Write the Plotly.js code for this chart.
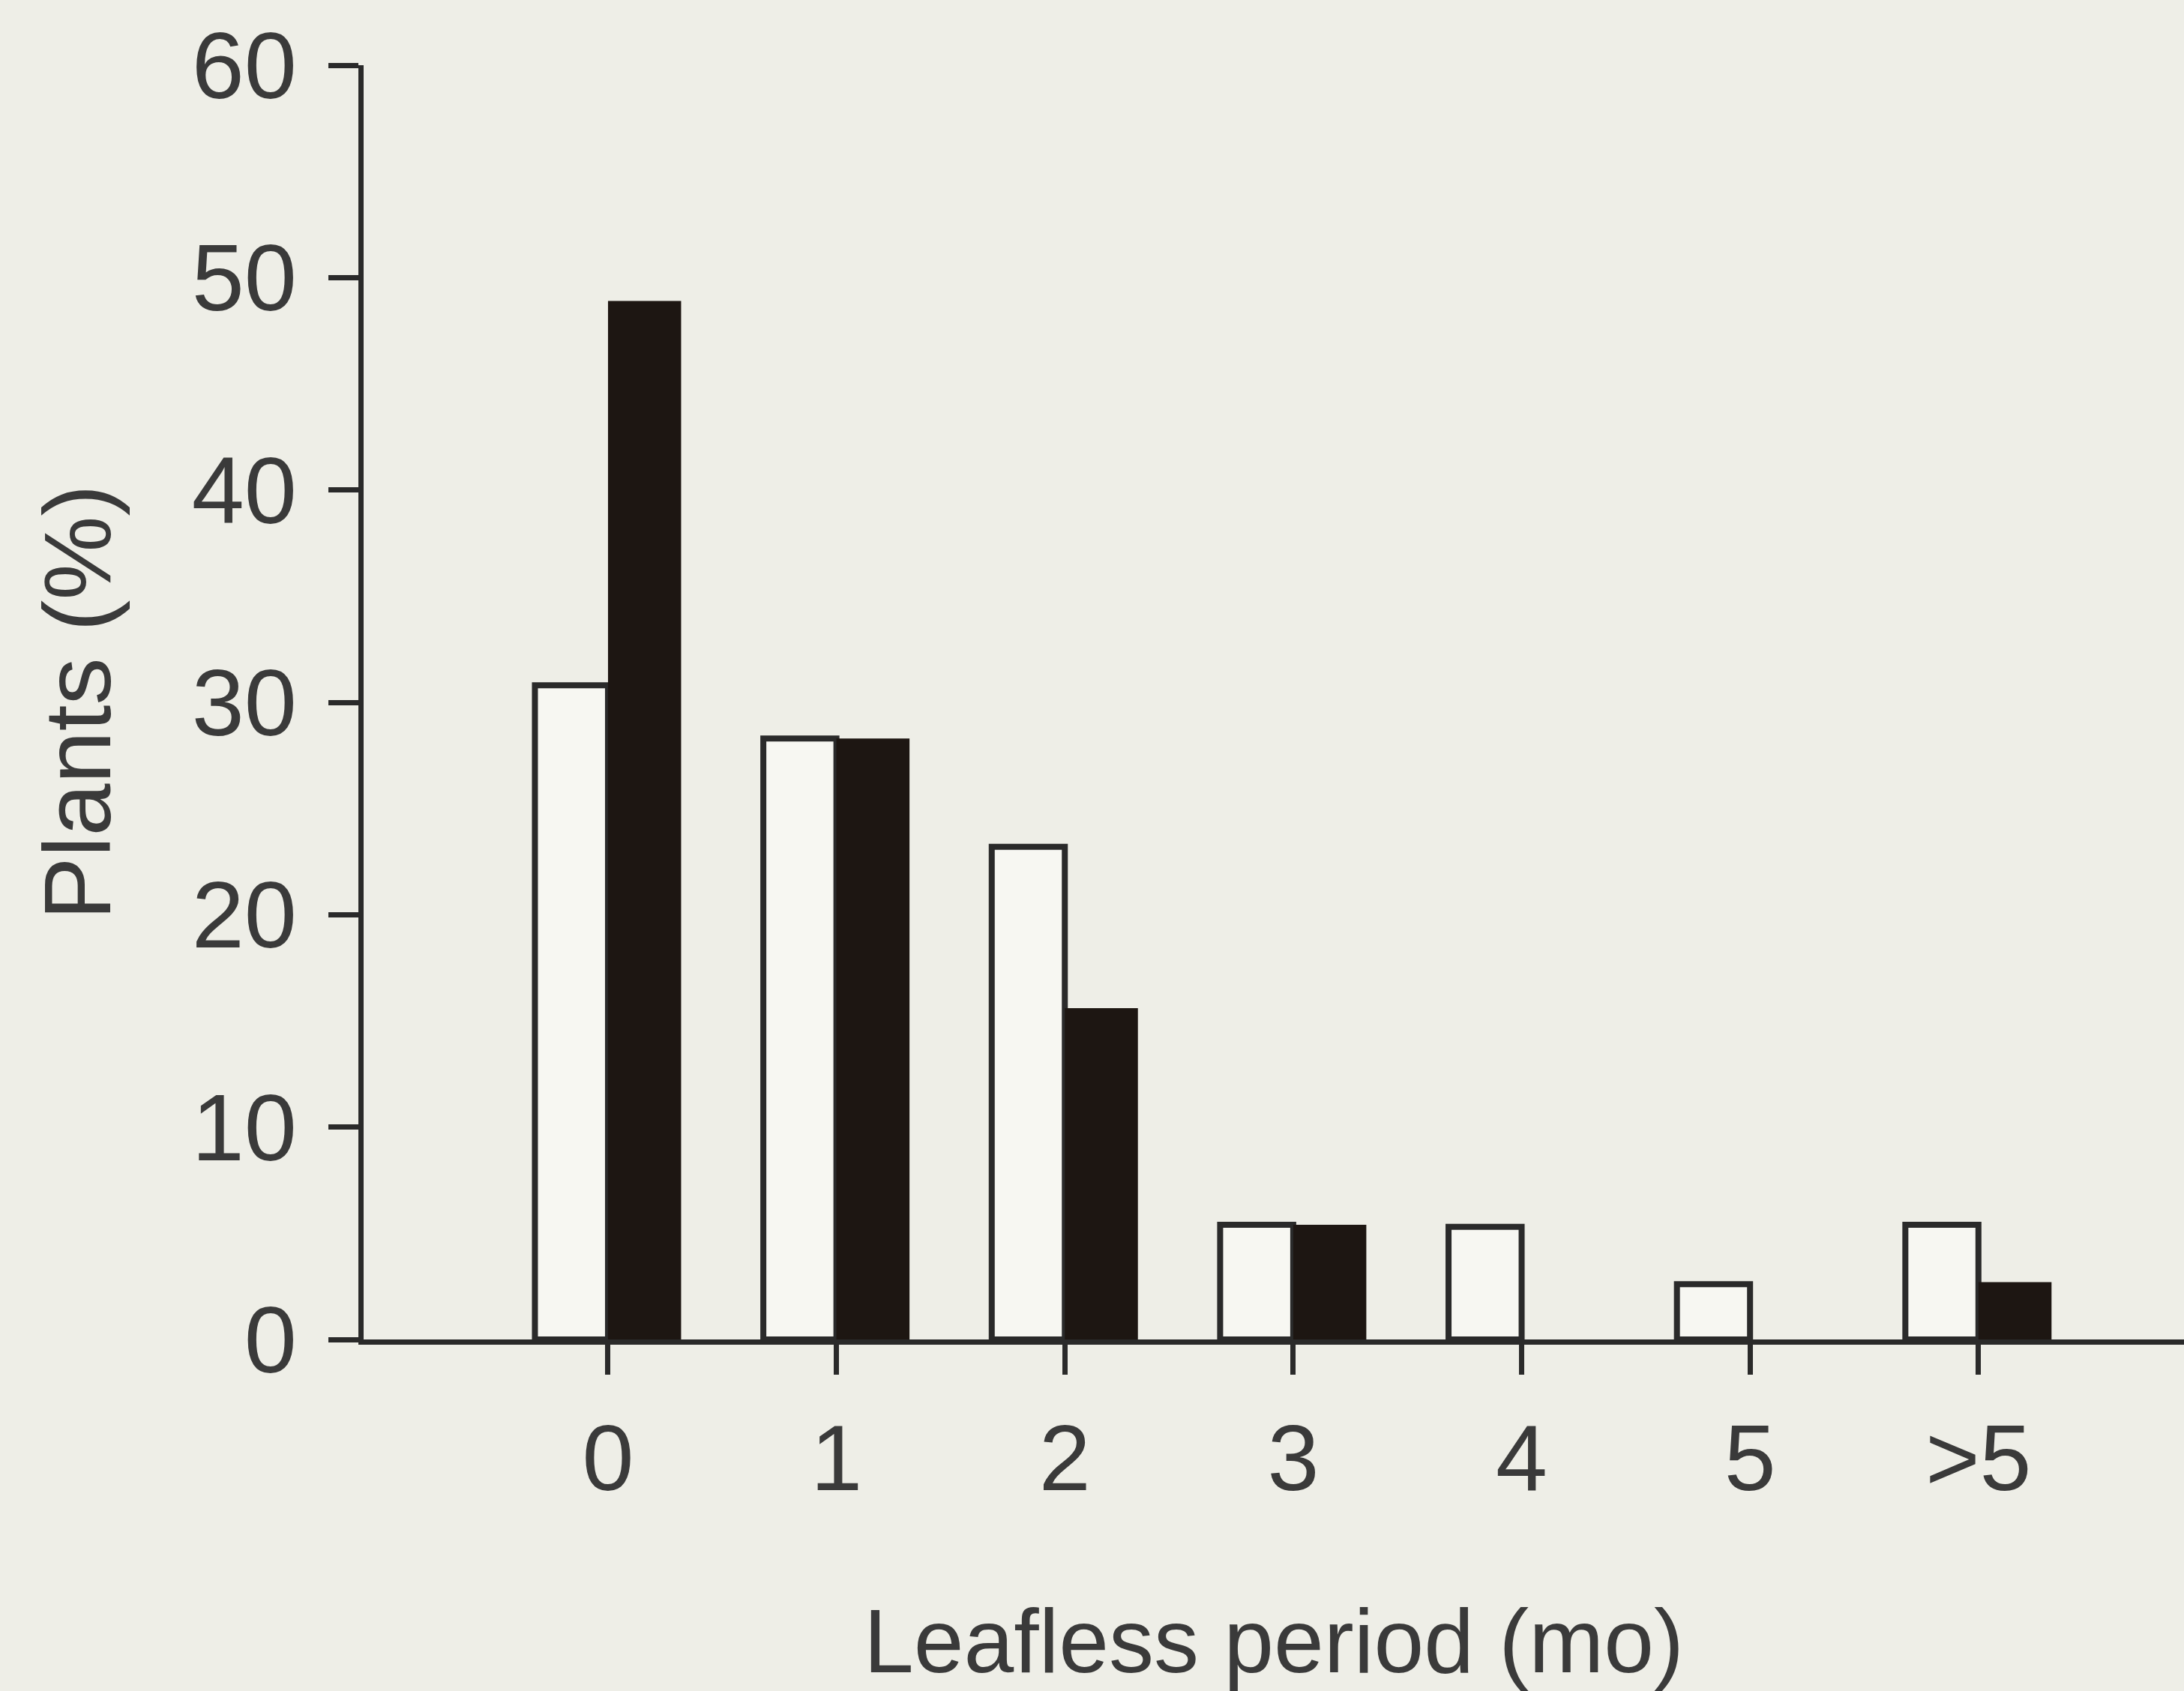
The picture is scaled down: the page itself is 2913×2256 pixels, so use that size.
<!DOCTYPE html>
<html>
<head>
<meta charset="utf-8">
<script src="https://cdn.plot.ly/plotly-3.0.1.min.js"></script>
<style>html,body{margin:0;padding:0;background:#eeeee7;}</style>
</head>
<body>
<div id="chart" style="width:2913px;height:2256px;"></div>
<script>
const categories = ["0", "1", "2", "3", "4", "5", ">5"];
const whiteSeries = [30.8, 28.3, 23.2, 5.4, 5.3, 2.6, 5.4];
const blackSeries = [48.9, 28.3, 15.6, 5.4, 0, 0, 2.7];
const yTicks = [0, 10, 20, 30, 40, 50, 60];

const fontFam = "Liberation Sans, Arial, sans-serif";
const textColor = "#3a3a3a";
const lineColor = "#2a2a2a";

const traces = [
  {
    type: "bar", x: categories, y: whiteSeries, name: "open",
    marker: {color: "#f7f7f2", line: {color: lineColor, width: 8}}
  },
  {
    type: "bar", x: categories, y: blackSeries, name: "filled",
    marker: {color: "#1d1612", line: {color: "#1d1612", width: 0}}
  }
];

const layout = {
  width: 2913, height: 2256,
  paper_bgcolor: "#eeeee7", plot_bgcolor: "rgba(0,0,0,0)",
  margin: {l: 485, r: 0, t: 87, b: 469},
  showlegend: false,
  barmode: "group", bargap: 0.36, bargroupgap: 0,
  font: {family: fontFam, color: textColor, size: 124},
  xaxis: {
    type: "category", range: [-1.07, 6.9],
    showline: true, linecolor: lineColor, linewidth: 7,
    ticks: "outside", ticklen: 40, tickwidth: 7, tickcolor: lineColor,
    ticklabelstandoff: 5,
    showgrid: false, zeroline: false,
    tickfont: {family: fontFam, size: 124, color: textColor},
    title: {text: "Leafless period (mo)", font: {family: fontFam, size: 120, color: textColor}, standoff: 160}
  },
  yaxis: {
    range: [0, 60], tickvals: yTicks, ticktext: yTicks.map(String),
    showline: true, linecolor: lineColor, linewidth: 7,
    ticks: "outside", ticklen: 40, tickwidth: 7, tickcolor: lineColor,
    ticklabelstandoff: 17,
    showgrid: false, zeroline: false,
    tickfont: {family: fontFam, size: 126, color: textColor},
    title: {text: "Plants (%)", font: {family: fontFam, size: 126, color: textColor}, standoff: 68}
  }
};

Plotly.newPlot("chart", traces, layout, {displayModeBar: false, staticPlot: true});
</script>
</body>
</html>
